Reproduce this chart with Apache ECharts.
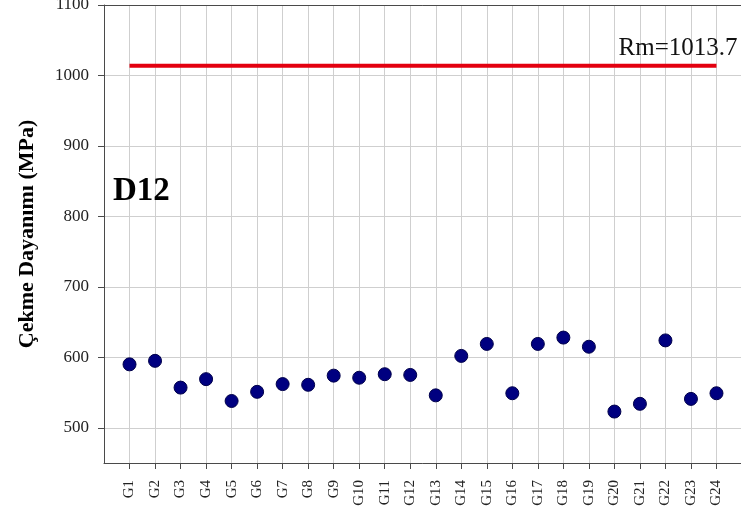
<!DOCTYPE html>
<html>
<head>
<meta charset="utf-8">
<script src="https://cdn.jsdelivr.net/npm/echarts@6/dist/echarts.min.js"></script>
<style>
  html, body { margin: 0; padding: 0; background: #fff; }
  #chart { width: 741px; height: 515px; }
</style>
</head>
<body>
<div id="chart"></div>
<script>
// Specimen labels along the x axis
const categories = ['G1', 'G2', 'G3', 'G4', 'G5', 'G6', 'G7', 'G8', 'G9', 'G10', 'G11', 'G12',
  'G13', 'G14', 'G15', 'G16', 'G17', 'G18', 'G19', 'G20', 'G21', 'G22', 'G23', 'G24'];

// Tensile strength of each specimen (MPa)
const strength = [590, 595, 557, 569, 538, 551, 562, 561, 574, 571, 576, 575,
  546, 602, 619, 549, 619, 628, 615, 523, 534, 624, 541, 549];

// Reference tensile strength Rm (MPa)
const rm = 1013.7;

// Y-axis tick values
const yTicks = [500, 600, 700, 800, 900, 1000, 1100];

const serif = '"Liberation Serif", "Times New Roman", serif';

// One empty slot on each side keeps the points off the frame edges
const axisData = [''].concat(categories, ['']);
const pointData = [null].concat(strength, [null]);
const rmData = [null].concat(categories.map(() => rm), [null]);
const lastIdx = categories.length;

const chart = echarts.init(document.getElementById('chart'), null, { renderer: 'canvas' });

chart.setOption({
  animation: false,
  backgroundColor: '#ffffff',
  title: {
    text: 'D12',
    left: 113,
    top: 175,
    padding: 0,
    textStyle: { fontFamily: serif, fontWeight: 'bold', fontSize: 33, color: '#000' }
  },
  grid: {
    left: 104, top: 5, width: 638, bottom: 52,
    outerBoundsMode: 'none',
    containLabel: false,
    show: false
  },
  xAxis: [
    {
      type: 'category',
      data: axisData,
      boundaryGap: false,
      axisLine: { lineStyle: { color: '#4a4a4a', width: 1 } },
      axisTick: {
        length: 6,
        interval: (i) => i > 0 && i < axisData.length - 1,
        lineStyle: { color: '#4a4a4a' }
      },
      axisLabel: {
        interval: 0,
        rotate: 90,
        margin: 17,
        fontFamily: serif,
        fontSize: 15,
        color: '#222'
      },
      splitLine: {
        show: true,
        interval: 0,
        lineStyle: { color: '#cfcfcf', width: 1 }
      }
    },
    {
      // top frame line
      type: 'category',
      position: 'top',
      data: axisData,
      boundaryGap: false,
      axisLine: { show: true, lineStyle: { color: '#4a4a4a', width: 1 } },
      axisTick: { show: false },
      axisLabel: { show: false },
      splitLine: { show: false }
    }
  ],
  yAxis: {
    type: 'value',
    min: 450,
    max: 1100,
    name: 'Çekme Dayanımı (MPa)',
    nameLocation: 'middle',
    nameGap: 66,
    nameTextStyle: { fontFamily: serif, fontWeight: 'bold', fontSize: 22, color: '#000' },
    axisLine: { show: true, lineStyle: { color: '#4a4a4a', width: 1 } },
    axisTick: { show: true, length: 6, customValues: yTicks, lineStyle: { color: '#4a4a4a' } },
    axisLabel: {
      customValues: yTicks,
      formatter: (v) => String(v),
      margin: 15,
      fontFamily: serif,
      fontSize: 17,
      color: '#222'
    },
    splitLine: { show: true, lineStyle: { color: '#cfcfcf', width: 1 } }
  },
  series: [
    {
      type: 'line',
      data: rmData.map((v, i) => i === lastIdx
        ? {
            value: v,
            label: {
              show: true,
              position: 'top',
              align: 'right',
              distance: 2,
              offset: [21, -3],
              formatter: () => 'Rm=' + rm,
              fontFamily: serif,
              fontSize: 25,
              color: '#111'
            }
          }
        : v),
      showSymbol: true,
      symbol: 'circle',
      symbolSize: 0,
      lineStyle: { color: '#e3000f', width: 4 },
      itemStyle: { color: '#e3000f' },
      connectNulls: false,
      z: 2
    },
    {
      type: 'scatter',
      data: pointData,
      symbol: 'circle',
      symbolSize: 13,
      itemStyle: { color: '#000080', borderColor: '#00004a', borderWidth: 1, opacity: 1 },
      z: 3
    }
  ]
});
</script>
</body>
</html>
